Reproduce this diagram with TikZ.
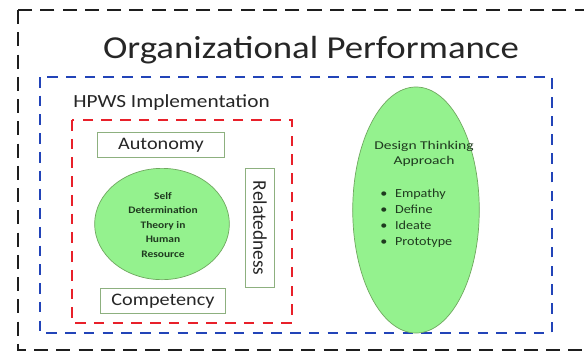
\documentclass[tikz,border=0pt]{standalone}
\usepackage{fontspec}
\setmainfont{Carlito}
\usetikzlibrary{shapes.geometric}
\definecolor{leafgreen}{HTML}{94F28E}
\definecolor{leafedge}{HTML}{6FA85F}
\definecolor{boxedge}{HTML}{8DB07F}
\definecolor{inkgreen}{HTML}{1F3A1F}
\definecolor{framegray}{HTML}{1E1E1E}
\definecolor{hpwsblue}{HTML}{2244B8}
\definecolor{sdtred}{HTML}{E8202A}

\begin{document}
\begin{tikzpicture}[
  x=0.03cm, y=-0.03cm,
  every node/.style={align=center},
  outerframe/.style={draw=framegray, line width=2pt, dash pattern=on 12pt off 7pt},
  hpwsframe/.style={draw=hpwsblue, line width=1.7pt, dash pattern=on 9pt off 7pt},
  sdtframe/.style={draw=sdtred, line width=1.7pt, dash pattern=on 9pt off 7pt},
  needbox/.style={rectangle, draw=boxedge, line width=0.8pt, fill=white,
                  inner sep=0pt, font=\fontsize{15}{18}\selectfont, text=black!85},
  greenblob/.style={ellipse, draw=leafedge, line width=0.6pt, fill=leafgreen,
                    inner sep=0pt},
  blobtext/.style={text=inkgreen, xscale=1.15, inner sep=0pt},
]

% ---- page and outer frame --------------------------------------------------
\useasboundingbox (0,0) rectangle (584,356);
\clip (0,0) rectangle (584,356);
\fill[white] (0,0) rectangle (584,356);
\draw[outerframe] (18,10) rectangle (620,350);

\node[anchor=base, font=\fontsize{27.3}{30}\selectfont, text=black!85, xscale=1.15]
  (title) at (311,58) {Organizational Performance};

% ---- HPWS implementation ---------------------------------------------------
\draw[hpwsframe] (40,77) rectangle (552,333);
\node[anchor=base west, inner sep=0pt, font=\fontsize{15.8}{18}\selectfont,
      text=black!85, xscale=1.15]
  (hpws) at (73,107) {HPWS Implementation};

% ---- Self determination theory and its three needs -------------------------
\draw[sdtframe] (72,120) rectangle (292,323);

\node[needbox, minimum width=109pt, minimum height=22pt] (autonomy) at (161,145)
  {\scalebox{1.15}[1]{Autonomy}};
\node[needbox, minimum width=107pt, minimum height=22pt] (competency) at (163,301)
  {\scalebox{1.15}[1]{Competency}};
\node[needbox, rotate=-90, minimum width=102pt, minimum height=24pt,
      font=\fontsize{16.5}{18}\selectfont] (relatedness)
  at (260,228) {Relatedness};

\node[greenblob, minimum width=115pt, minimum height=95pt] (sdt) at (162,224) {};
\node[blobtext, font=\fontsize{8.5}{12.4}\selectfont\bfseries] (sdttext) at (163,225)
  {Self\\Determination\\Theory in\\Human\\Resource};

% ---- Design thinking --------------------------------------------------------
\node[greenblob, minimum width=108pt, minimum height=210pt] (dt) at (416,210) {};
\node[blobtext, xscale=1.13, font=\fontsize{10.2}{13}\selectfont] (dttitle) at (424,154)
  {Design Thinking\\Approach};
\node[blobtext, anchor=north west, align=left, font=\fontsize{10.5}{13.7}\selectfont]
  (dtsteps) at (380,189)
  {\textbullet\hspace{0.55em}Empathy\\
   \textbullet\hspace{0.55em}Define\\
   \textbullet\hspace{0.55em}Ideate\\
   \textbullet\hspace{0.55em}Prototype};

\end{tikzpicture}
\end{document}
